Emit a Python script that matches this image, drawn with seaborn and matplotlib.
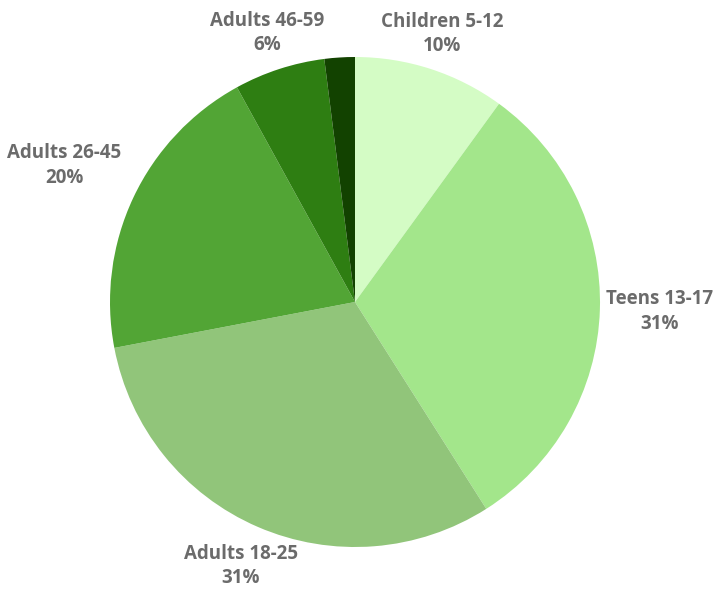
import numpy as np
import matplotlib
matplotlib.use("Agg")
import matplotlib.pyplot as plt
import seaborn as sns

categories = ["Children 5-12", "Teens 13-17", "Adults 18-25", "Adults 26-45", "Adults 46-59", "Adults 60+"]
values = [10, 31, 31, 20, 6, 2]
show_label = [True, True, True, True, True, False]
colors = ["#d4fcc5", "#a3e68b", "#91c57a", "#52a535", "#2e7e12", "#124200"]

sns.set_theme(style="white")
plt.rcParams['font.family'] = ['Open Sans', 'DejaVu Sans']

fig = plt.figure(figsize=(7.15, 5.89), dpi=100)
W, H = 715, 589
cx, cy, R = 355, 302, 245
ax = fig.add_axes([(cx - R) / W, (H - cy - R) / H, 2 * R / W, 2 * R / H])
palette = sns.color_palette(colors)
wedges, _ = ax.pie(values, colors=palette, startangle=90, counterclock=False,
                   radius=1.0, wedgeprops=dict(linewidth=0))
ax.set_xlim(-1, 1)
ax.set_ylim(-1, 1)
ax.set_aspect("equal")
ax.axis("off")

# label distance (in radii) per slice
dists = [1.15, 1.245, 1.175, 1.31, 1.155, 1.2]
total = sum(values)
for w, cat, v, show, d in zip(wedges, categories, values, show_label, dists):
    if not show:
        continue
    ang = np.deg2rad((w.theta1 + w.theta2) / 2)
    x, y = d * np.cos(ang), d * np.sin(ang)
    ax.text(x, y, f"{cat}\n{round(100 * v / total)}%", ha="center", va="center",
            fontsize=13.5, fontweight="bold", color="#6b6b6b", linespacing=1.3)

fig.savefig("out.png", dpi=100, facecolor="white")
